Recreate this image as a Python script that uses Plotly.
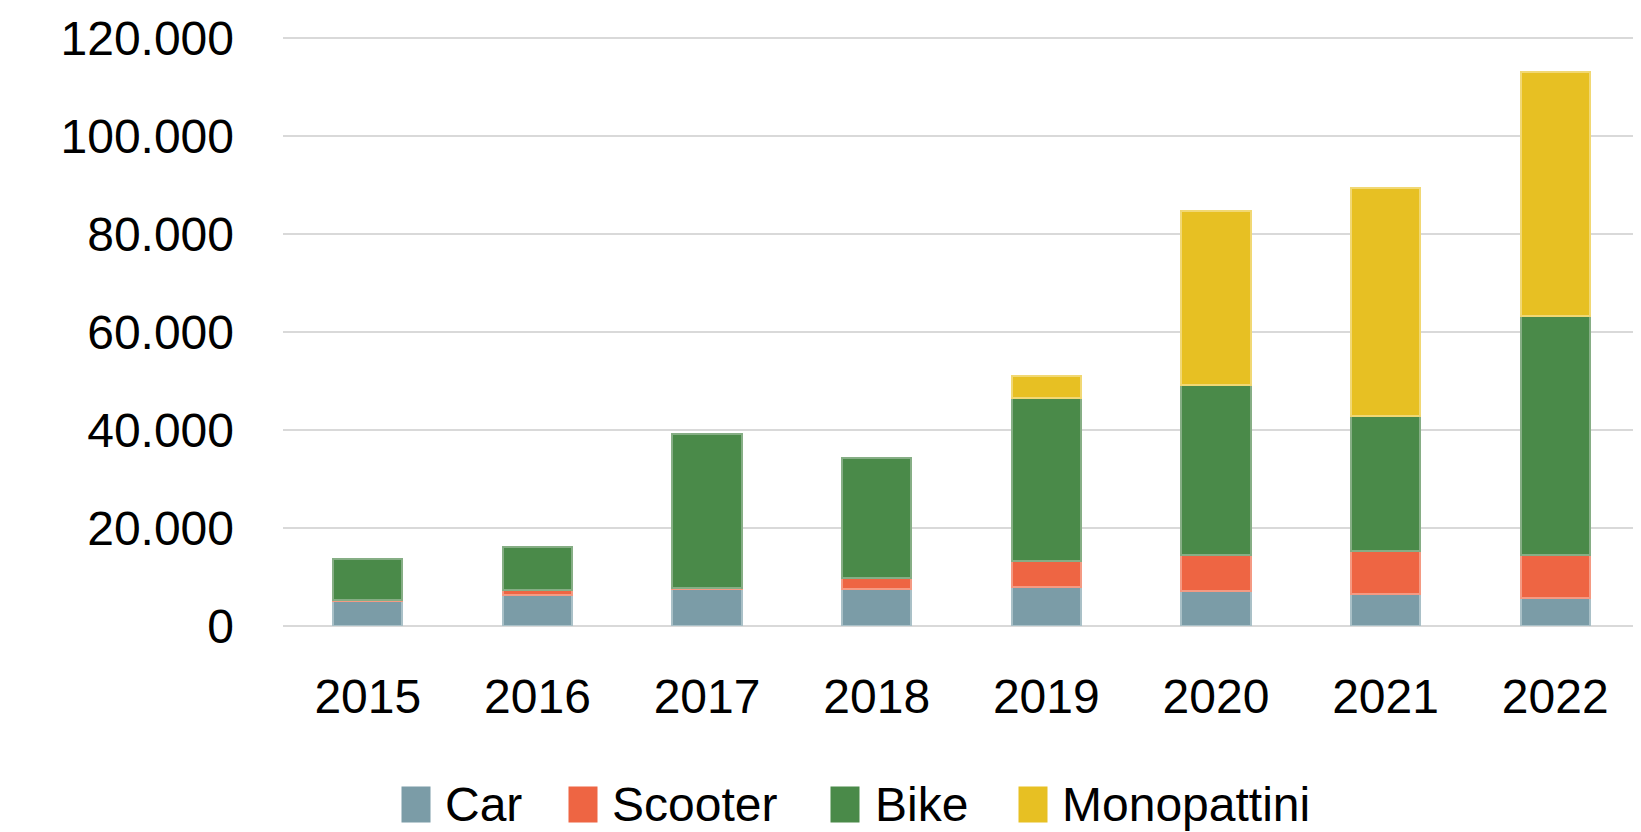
import plotly.graph_objects as go

years = ["2015", "2016", "2017", "2018", "2019", "2020", "2021", "2022"]
car = [5100, 6400, 7500, 7600, 7900, 7100, 6500, 5700]
scooter = [300, 1000, 350, 2200, 5300, 7300, 8800, 8700]
bike = [8200, 8800, 31400, 24400, 33300, 34700, 27500, 48800]
monopattini = [None, None, None, None, 4500, 35600, 46600, 49900]

series_names = ["Car", "Scooter", "Bike", "Monopattini"]
series_values = [car, scooter, bike, monopattini]
colors = ["#7B9CA7", "#EE6543", "#4A8A49", "#E7C023"]
edge_colors = ["#A9C0C7", "#F49A83", "#86AE85", "#F1D874"]

FONT = "Liberation Sans"
FS = 48

fig = go.Figure()
for name, vals, c, ec in zip(series_names, series_values, colors, edge_colors):
    fig.add_trace(go.Bar(
        x=years, y=vals, name=name, showlegend=False,
        marker=dict(color=c, line=dict(color=ec, width=2)),
    ))

# page has an 8px body margin; figure is offset by it
OFF = 8
W, H = 1641 - OFF, 832 - OFF
YMAX = 121000
plot_top_px = 626 - 588 * YMAX / 120000  # page coords
L, R = 283 - OFF, 1
T = plot_top_px - OFF
B = 832 - 626
pw, ph = W - L - R, H - T - B

def px_to_paper(px, py):
    # px, py in page (screenshot) pixels
    return (px - OFF - L) / pw, (H - B - (py - OFF)) / ph

legend_swatch_x = [401, 568, 830, 1018]
legend_text_x = [443, 610, 873, 1060]
legend_y = 804
annotations = []
for name, c, sx, tx in zip(series_names, colors, legend_swatch_x, legend_text_x):
    ax, ay = px_to_paper(sx, legend_y)
    annotations.append(dict(
        xref="paper", yref="paper", x=ax, y=ay, xanchor="left", yanchor="middle",
        text=" ", showarrow=False, bgcolor=c, width=28, height=35, borderpad=0,
    ))
    tx_, ty_ = px_to_paper(tx, legend_y)
    annotations.append(dict(
        xref="paper", yref="paper", x=tx_, y=ty_, xanchor="left", yanchor="middle",
        text=name, showarrow=False, font=dict(family=FONT, size=FS, color="#000000"),
    ))

fig.update_layout(
    width=W, height=H,
    margin=dict(l=L, r=R, t=T, b=B, autoexpand=False),
    barmode="stack", bargap=0.592,
    plot_bgcolor="white", paper_bgcolor="white",
    separators=",.",
    font=dict(family=FONT, size=FS, color="#000000"),
    annotations=annotations,
    xaxis=dict(
        type="category", showgrid=False, showline=False, ticks="",
        tickfont=dict(family=FONT, size=FS, color="#000000"),
        ticklabelstandoff=38,
    ),
    yaxis=dict(
        range=[0, YMAX], tickvals=[0, 20000, 40000, 60000, 80000, 100000, 120000],
        tickformat=",d", showgrid=True, gridcolor="#D9D9D9", gridwidth=2,
        zeroline=True, zerolinecolor="#D9D9D9", zerolinewidth=2, showline=False,
        ticks="", ticklabelstandoff=48,
        tickfont=dict(family=FONT, size=FS, color="#000000"),
    ),
)

fig.write_html("out.html")
